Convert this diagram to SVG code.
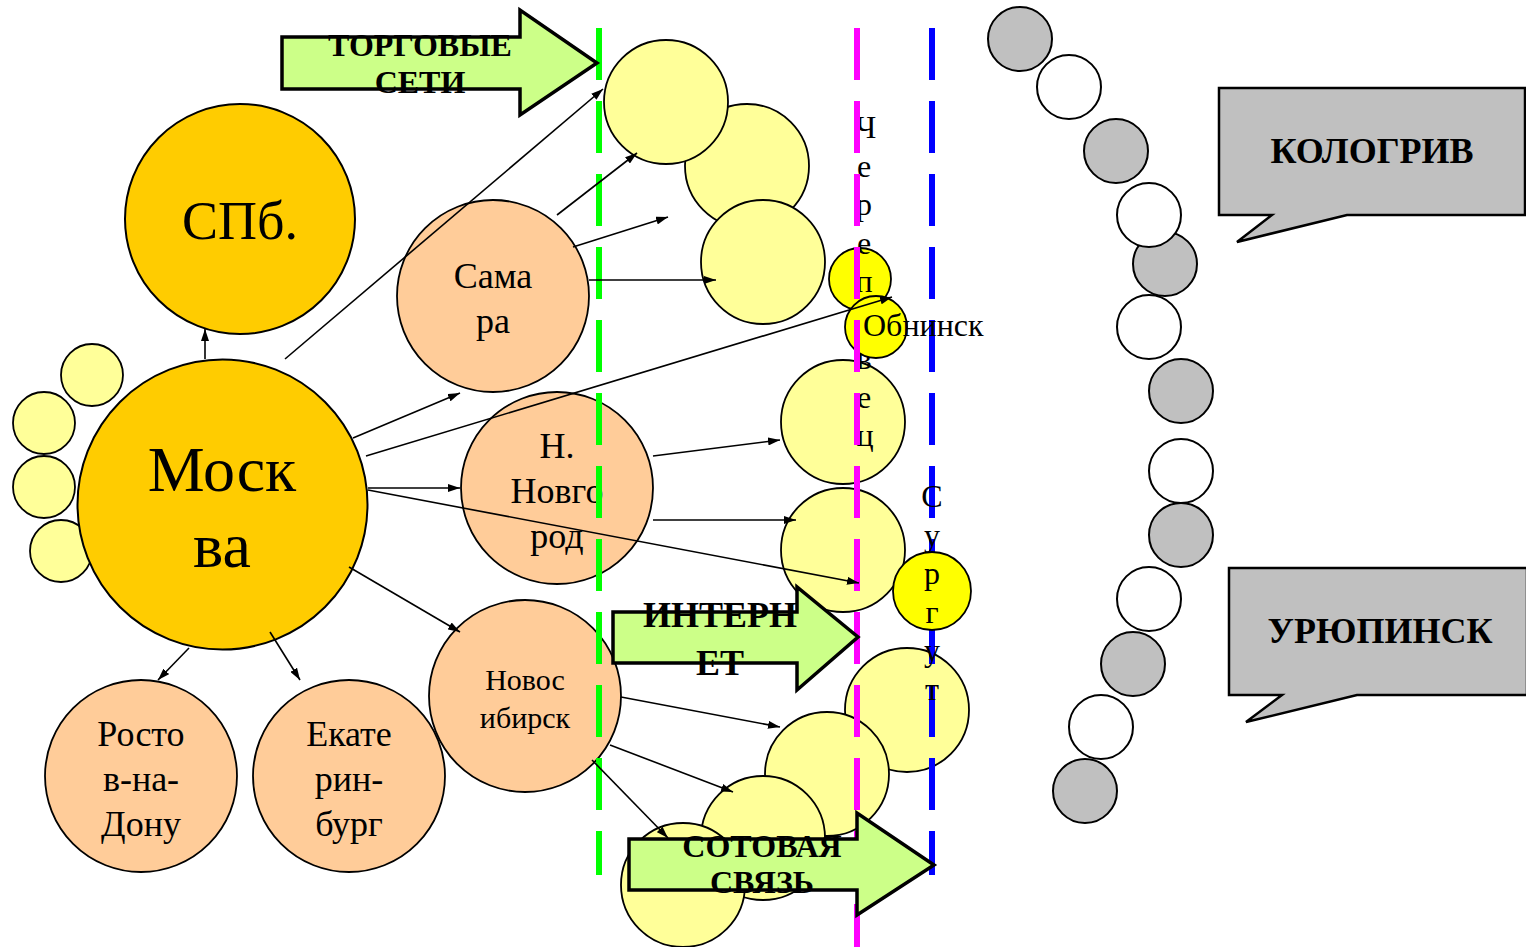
<svg xmlns="http://www.w3.org/2000/svg" width="1526" height="947" viewBox="0 0 1526 947">
<style>
text{font-family:"Liberation Serif","Times New Roman",serif;fill:#000}
.big{fill:#FFCC00;stroke:#000;stroke-width:2}
.peach{fill:#FFCC99;stroke:#000;stroke-width:1.8}
.ly{fill:#FFFF99;stroke:#000;stroke-width:1.8}
.by{fill:#FFFF00;stroke:#000;stroke-width:1.8}
.gr{fill:#C0C0C0;stroke:#000;stroke-width:2}
.wh{fill:#FFFFFF;stroke:#000;stroke-width:2}
.barrow{fill:#CCFF88;stroke:#000;stroke-width:3.5;stroke-linejoin:miter}
.call{fill:#C0C0C0;stroke:#000;stroke-width:2.5}
.dash{stroke-width:6;stroke-dasharray:52 21;fill:none}
.con line{stroke:#000;stroke-width:1.6;marker-end:url(#ah)}
.bt{font-weight:bold;text-anchor:middle}
.ct{text-anchor:middle}
</style>
<defs>
<marker id="ah" viewBox="0 0 12 8" refX="12" refY="4" markerWidth="12" markerHeight="8" markerUnits="userSpaceOnUse" orient="auto">
<path d="M0,0 L12,4 L0,8 Z" fill="#000"/>
</marker>
</defs>

<g id="spb"><circle class="big" cx="240" cy="219" r="115"/><text class="ct" x="240" y="239" font-size="54">СПб.</text></g>
<g id="moscow-satellites">
<circle class="ly" cx="92" cy="375" r="31"/>
<circle class="ly" cx="44" cy="423" r="31"/>
<circle class="ly" cx="44" cy="487" r="31"/>
<circle class="ly" cx="61" cy="551" r="31"/>
</g>
<g id="moscow"><circle class="big" cx="222.5" cy="504.5" r="145" stroke-width="3.2"/>
<text class="ct" x="222" y="491" font-size="64">Моск</text><text class="ct" x="222" y="567" font-size="64">ва</text></g>
<g id="samara"><circle class="peach" cx="493" cy="296" r="96"/>
<text class="ct" x="493" y="288" font-size="36">Сама</text><text class="ct" x="493" y="333" font-size="36">ра</text></g>
<g id="nnovgorod"><circle class="peach" cx="557" cy="488" r="96"/>
<text class="ct" x="557" y="458" font-size="36">Н.</text><text class="ct" x="557" y="503" font-size="36">Новго</text><text class="ct" x="557" y="548" font-size="36">род</text></g>
<g id="novosibirsk"><circle class="peach" cx="525" cy="696" r="96"/>
<text class="ct" x="525" y="690" font-size="30">Новос</text><text class="ct" x="525" y="728" font-size="30">ибирск</text></g>
<g id="rostov"><circle class="peach" cx="141" cy="776" r="96"/>
<text class="ct" x="141" y="746" font-size="36">Росто</text><text class="ct" x="141" y="791" font-size="36">в-на-</text><text class="ct" x="141" y="836" font-size="36">Дону</text></g>
<g id="ekaterinburg"><circle class="peach" cx="349" cy="776" r="96"/>
<text class="ct" x="349" y="746" font-size="36">Екате</text><text class="ct" x="349" y="791" font-size="36">рин-</text><text class="ct" x="349" y="836" font-size="36">бург</text></g>

<g id="yellow-circles">
<circle class="ly" cx="747" cy="166" r="62"/>
<circle class="ly" cx="666" cy="102" r="62"/>
<circle class="ly" cx="763" cy="262" r="62"/>
<circle class="ly" cx="843" cy="422" r="62"/>
<circle class="ly" cx="843" cy="550" r="62"/>
<circle class="ly" cx="907" cy="710" r="62"/>
<circle class="ly" cx="827" cy="774" r="62"/>
<circle class="ly" cx="763" cy="838" r="62"/>
<circle class="ly" cx="683" cy="885" r="62"/>
</g>
<g id="cherepovets"><circle class="by" cx="860" cy="279" r="31"/>
<text font-size="32" text-anchor="middle">
<tspan x="866" y="138">Ч</tspan><tspan x="864" y="176.5">е</tspan><tspan x="864" y="215">р</tspan><tspan x="864" y="253.5">е</tspan><tspan x="864" y="292">п</tspan><tspan x="864" y="330.5">о</tspan><tspan x="864" y="369">в</tspan><tspan x="864" y="407.5">е</tspan><tspan x="865" y="446">ц</tspan></text></g>
<g id="obninsk-circle"><circle class="by" cx="876" cy="327" r="31"/></g>

<g id="dashed-lines">
<line class="dash" x1="599" y1="28" x2="599" y2="875" stroke="#00FF00"/>
<line class="dash" x1="857" y1="28" x2="857" y2="947" stroke="#FF00FF"/>
<line class="dash" x1="932" y1="28" x2="932" y2="875" stroke="#0000FF"/>
</g>
<g id="obninsk-label"><text x="863" y="336" font-size="32">Обнинск</text></g>
<g id="surgut"><circle class="by" cx="932" cy="591" r="39"/>
<text font-size="32" text-anchor="middle">
<tspan x="932" y="507">С</tspan><tspan x="932" y="545.5">у</tspan><tspan x="932" y="584">р</tspan><tspan x="932" y="622.5">г</tspan><tspan x="932" y="661">у</tspan><tspan x="932" y="699.5">т</tspan></text></g>

<g id="arc-circles">
<circle class="gr" cx="1020" cy="39" r="32"/>
<circle class="wh" cx="1069" cy="87" r="32"/>
<circle class="gr" cx="1116" cy="151" r="32"/>
<circle class="gr" cx="1165" cy="264" r="32"/>
<circle class="wh" cx="1149" cy="215" r="32"/>
<circle class="wh" cx="1149" cy="327" r="32"/>
<circle class="gr" cx="1181" cy="391" r="32"/>
<circle class="wh" cx="1181" cy="471" r="32"/>
<circle class="gr" cx="1181" cy="535" r="32"/>
<circle class="wh" cx="1149" cy="599" r="32"/>
<circle class="gr" cx="1133" cy="664" r="32"/>
<circle class="wh" cx="1101" cy="727" r="32"/>
<circle class="gr" cx="1085" cy="791" r="32"/>
</g>

<g id="connectors" class="con">
<line x1="205" y1="359" x2="205" y2="329"/>
<line x1="285" y1="359" x2="603" y2="89"/>
<line x1="353" y1="438" x2="460" y2="393"/>
<line x1="366" y1="456" x2="892" y2="297"/>
<line x1="368" y1="488" x2="460" y2="488"/>
<line x1="368" y1="490" x2="859" y2="583"/>
<line x1="349" y1="567" x2="460" y2="632"/>
<line x1="189" y1="648" x2="158" y2="680"/>
<line x1="270" y1="632" x2="300" y2="680"/>
<line x1="557" y1="215" x2="637" y2="153"/>
<line x1="573" y1="247" x2="668" y2="217"/>
<line x1="589" y1="280" x2="716" y2="280"/>
<line x1="653" y1="456" x2="780" y2="440"/>
<line x1="653" y1="520" x2="796" y2="520"/>
<line x1="621" y1="697" x2="780" y2="727"/>
<line x1="610" y1="745" x2="733" y2="792"/>
<line x1="592" y1="760" x2="668" y2="838"/>
</g>

<g id="trade-arrow">
<polygon class="barrow" points="282,37 520,37 520,10 597,63 520,115 520,89 282,89"/>
<text class="bt" x="420" y="56" font-size="32">ТОРГОВЫЕ</text><text class="bt" x="420" y="93" font-size="32">СЕТИ</text>
</g>
<g id="internet-arrow">
<polygon class="barrow" points="613,612 797,612 797,587 858,637 797,690 797,663 613,663"/>
<text class="bt" x="720" y="627" font-size="36">ИНТЕРН</text><text class="bt" x="720" y="675" font-size="36">ЕТ</text>
</g>
<g id="cellular-arrow">
<polygon class="barrow" points="629,839 857,839 857,813 934,865 857,915 857,890 629,890"/>
<text class="bt" x="762" y="857" font-size="32">СОТОВАЯ</text><text class="bt" x="762" y="893" font-size="32">СВЯЗЬ</text>
</g>

<g id="kologriv">
<path class="call" d="M1219,88 H1525 V215 H1347 L1237,242 L1272,215 H1219 Z"/>
<text class="bt" x="1372" y="163" font-size="36">КОЛОГРИВ</text>
</g>
<g id="uryupinsk">
<path class="call" d="M1229,568 H1527 V695 H1357 L1246,722 L1282,695 H1229 Z"/>
<text class="bt" x="1380" y="643" font-size="36">УРЮПИНСК</text>
</g>
</svg>
